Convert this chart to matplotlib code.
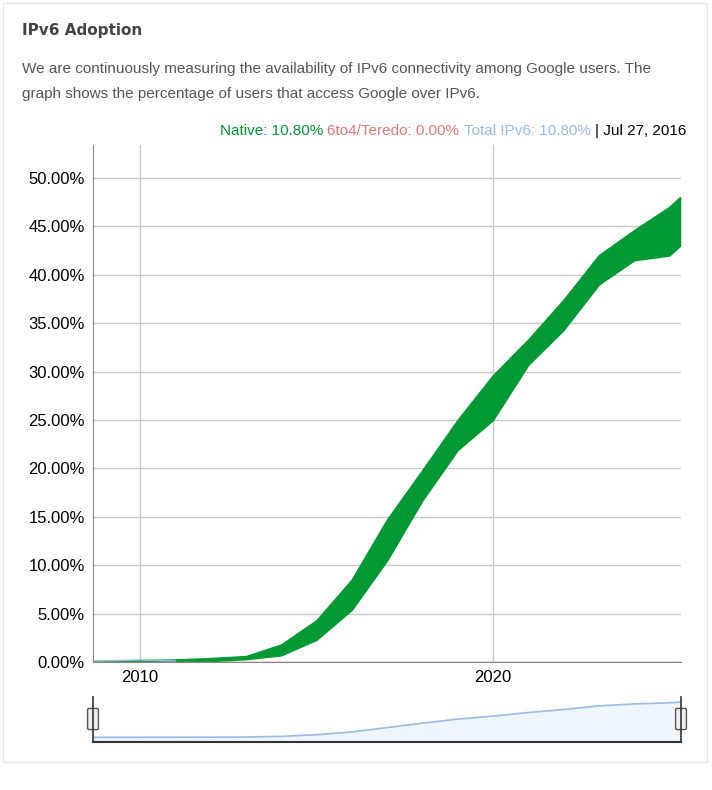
import matplotlib
matplotlib.use("Agg")
import matplotlib.pyplot as plt
from matplotlib.patches import Rectangle, FancyBboxPatch
import numpy as np

plt.rcParams['font.family'] = ['Liberation Sans', 'DejaVu Sans']

years = [2008.7, 2010, 2011, 2012, 2013, 2014, 2015, 2016, 2017, 2018, 2019, 2020, 2021, 2022, 2023, 2024, 2025, 2025.3]
native_low = [0.0, 0.0, 0.05, 0.1, 0.3, 0.7, 2.3, 5.4, 10.5, 16.7, 21.9, 25.0, 30.7, 34.3, 39.0, 41.5, 42.0, 43.0]
native_high = [0.1, 0.2, 0.25, 0.4, 0.6, 1.8, 4.3, 8.5, 14.7, 19.8, 25.0, 29.6, 33.3, 37.4, 42.0, 44.6, 47.0, 48.0]
yticks = [0, 5, 10, 15, 20, 25, 30, 35, 40, 45, 50]

fig = plt.figure(figsize=(7.12, 7.90), dpi=100)
fig.patches.append(Rectangle((3/712, 28/790), 704/712, 759/790, transform=fig.transFigure,
                             fill=False, edgecolor="#e6e6e6", lw=1))
fig.text(22/712, 1-31/790, "IPv6 Adoption", fontsize=11, fontweight="bold", color="#444444", va="center",
         family=['DejaVu Sans'])
fig.text(22/712, 1-69/790, "We are continuously measuring the availability of IPv6 connectivity among Google users. The",
         fontsize=11, color="#555555", va="center")
fig.text(22/712, 1-94/790, "graph shows the percentage of users that access Google over IPv6.",
         fontsize=11, color="#555555", va="center")

parts = [("Native: 10.80% ", "#009933"), ("6to4/Teredo: 0.00% ", "#e37777"),
         ("Total IPv6: 10.80% ", "#99bbe8"), ("| Jul 27, 2016", "#000000")]
r = fig.canvas.get_renderer()
x = 686/712
for txt, c in reversed(parts):
    t = fig.text(x, 1-131/790, txt, fontsize=11, color=c, ha="right", va="center")
    w = t.get_window_extent(renderer=r).width
    x -= w/712

ax = fig.add_axes([93/712, 1-662/790, 588/712, 517/790])
ax.fill_between(years, native_low, native_high, color="#009933", lw=1.2, edgecolor="#009933")
ax.plot(years, [0]*len(years), color="#e37777", lw=1)
ax.plot(years[:3], [0.1, 0.2, 0.1], color="#99bbe8", lw=1)
ax.set_xlim(2008.67, 2025.33)
ax.set_ylim(0, 53.4)
ax.set_yticks(yticks)
ax.set_yticklabels([f"{v:.2f}%" for v in yticks], fontsize=12)
ax.set_xticks([2010, 2020])
ax.set_xticklabels(["2010", "2020"], fontsize=12)
ax.grid(True, color="#c8c8c8", lw=1)
ax.set_axisbelow(True)
for s in ["top", "right"]:
    ax.spines[s].set_visible(False)
ax.spines["left"].set_color("#888888")
ax.spines["bottom"].set_color("#888888")
ax.tick_params(length=0, pad=6)

nav = fig.add_axes([93/712, 1-742/790, 588/712, 45/790])
mid = [(a+b)/2 for a, b in zip(native_low, native_high)]
nav.fill_between(years, mid, -20, color="#eef5fd")
nav.plot(years, mid, color="#99bbe8", lw=1.2)
nav.set_xlim(2008.67, 2025.33)
nav.set_ylim(-6, 52)
nav.set_xticks([]); nav.set_yticks([])
for s in ["top", "right", "left"]:
    nav.spines[s].set_visible(False)
nav.spines["bottom"].set_color("#333333")
nav.spines["bottom"].set_linewidth(1.5)
for xf in [93/712, 681/712]:
    fig.add_artist(plt.Line2D([xf, xf], [1-742/790, 1-697/790], color="#333333", lw=1.2))
    fig.patches.append(FancyBboxPatch((xf-4/712, 1-728/790), 8/712, 18/790, boxstyle="round,pad=0.002",
                                      transform=fig.transFigure, facecolor="#eeeeee", edgecolor="#555555", lw=1))

fig.savefig("out.png", dpi=100)
